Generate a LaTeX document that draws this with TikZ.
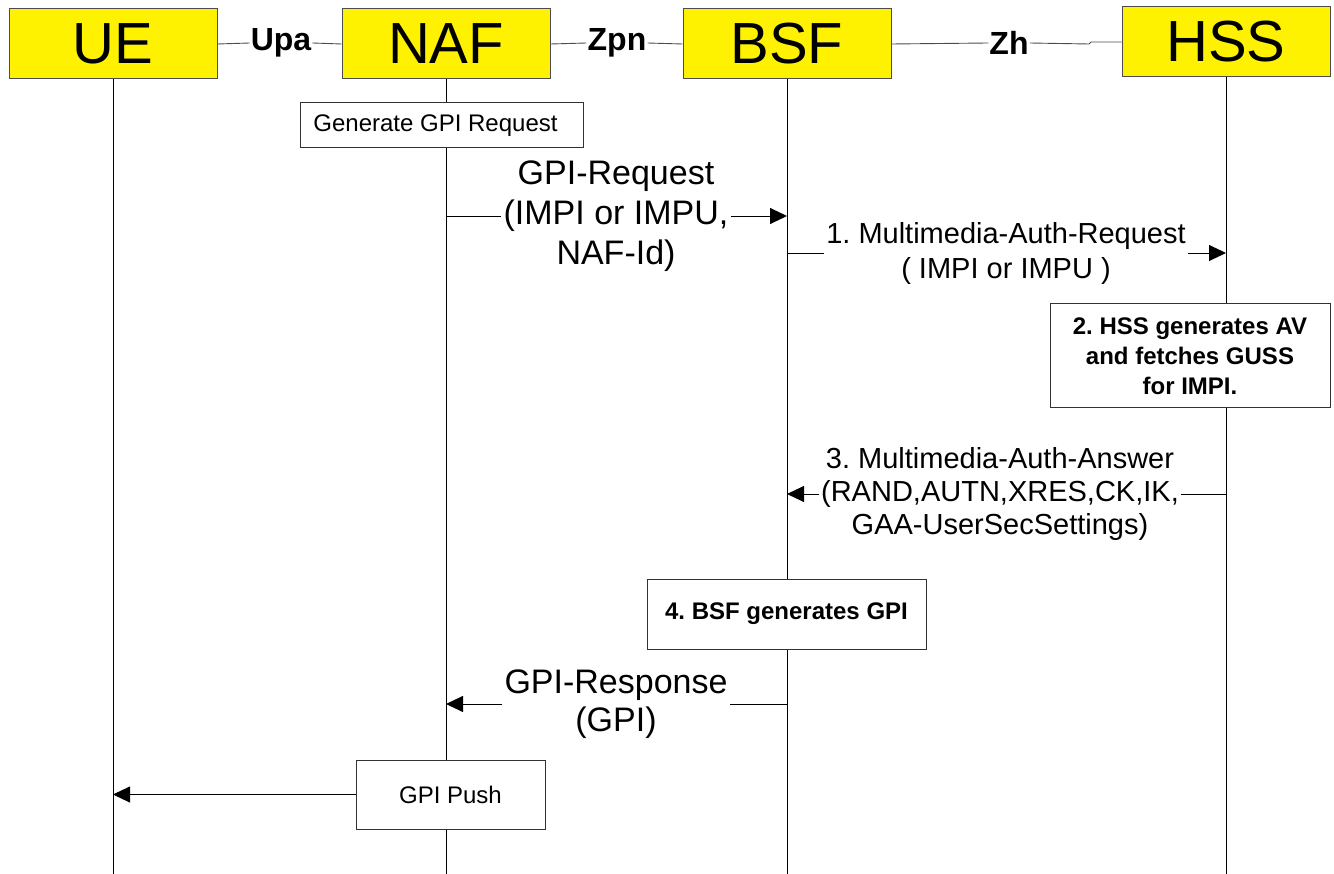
\documentclass[tikz,border=0pt]{standalone}
\usepackage{fontspec}
\setmainfont{Liberation Sans}
\usetikzlibrary{arrows.meta}
\frenchspacing
\begin{document}
\begin{tikzpicture}[x=1pt,y=-1pt,
  ent/.style={draw=black!70, fill=yellow, line width=1pt, minimum width=208pt, minimum height=70pt, inner sep=0pt, font=\fontsize{58}{60}\selectfont},
  iface/.style={font=\bfseries\fontsize{32}{34}\selectfont, inner sep=1pt},
  life/.style={line width=1pt},
  conn/.style={draw=black!70, line width=0.9pt},
  act/.style={draw=black!80, fill=white, line width=1pt, inner sep=0pt, align=center},
  msg/.style={line width=0.9pt, -{Triangle[length=17pt,width=16pt]}},
  plain/.style={line width=0.9pt},
  big/.style={align=center, inner sep=2pt, font=\fontsize{34}{40}\selectfont},
  mid/.style={align=center, inner sep=2pt, font=\fontsize{29}{35}\selectfont},
]
\useasboundingbox (0,0) rectangle (1334,874);
\coordinate (bot) at (0,874);
% entities
\node[ent] (UE) at (113,44) {UE};
\node[ent] (NAF) at (446,44) {NAF};
\node[ent] (BSF) at (787,44) {BSF};
\node[ent] (HSS) at (1226,42) {HSS};
% interface labels
\node[iface] (upa) at (281,43) {Upa};
\node[iface] (zpn) at (617,43) {Zpn};
\node[iface] (zh) at (1009,43) {Zh};
\coordinate (jogA) at (1089,44);
\coordinate (jogB) at (1091,42);
\draw[conn] (UE.east) -- (upa.west);
\draw[conn] (upa.east) -- (NAF.west);
\draw[conn] (NAF.east) -- (zpn.west);
\draw[conn] (zpn.east) -- (BSF.west);
\draw[conn] (BSF.east) -- (zh.west);
\draw[conn] (zh.east) -- (jogA) -- (jogB) -- (HSS.west);
% lifelines
\draw[life] (UE.south) -- (UE |- bot);
\draw[life] (NAF.south) -- (NAF |- bot);
\draw[life] (BSF.south) -- (BSF |- bot);
\draw[life] (HSS.south) -- (HSS |- bot);
% action boxes
\node[act, minimum width=283pt, minimum height=45pt, font=\fontsize{24}{28}\selectfont] (gen) at (441.5,125.5) {\hspace*{-12pt}Generate GPI Request};
\node[act, minimum width=280pt, minimum height=104pt, font=\bfseries\fontsize{24}{30}\selectfont] (hssgen) at (1190,356) {2. HSS generates AV\\and fetches GUSS\\for IMPI.};
\node[act, minimum width=279pt, minimum height=70pt, font=\bfseries\fontsize{24}{28}\selectfont] (bsfgen) at (786.5,614) {4. BSF generates GPI};
\node[act, minimum width=189pt, minimum height=69pt, font=\fontsize{24}{28}\selectfont] (push) at (450.5,794.5) {GPI Push};
% messages
\node[big] (req) at (616,216) {GPI-Request\\(IMPI or IMPU,\\NAF-Id)};
\draw[plain] (NAF |- req) -- (req.west);
\draw[msg] (req.east) -- (BSF |- req);
\node[mid] (mar) at (1006,253) {1. Multimedia-Auth-Request\\( IMPI or IMPU )};
\draw[plain] (BSF |- mar) -- (mar.west);
\draw[msg] (mar.east) -- (HSS |- mar);
\node[mid, font=\fontsize{29}{33}\selectfont] (maa) at (1000,494) {3. Multimedia-Auth-Answer\\(RAND,AUTN,XRES,CK,IK,\\GAA-UserSecSettings)};
\draw[plain] (HSS |- maa) -- (maa.east);
\draw[msg] (maa.west) -- (BSF |- maa);
\node[big, font=\fontsize{34}{38}\selectfont] (resp) at (616,704) {GPI-Response\\(GPI)};
\draw[plain] (BSF |- resp) -- (resp.east);
\draw[msg] (resp.west) -- (NAF |- resp);
\draw[msg] (push.west) -- (UE |- push);
\end{tikzpicture}
\end{document}
